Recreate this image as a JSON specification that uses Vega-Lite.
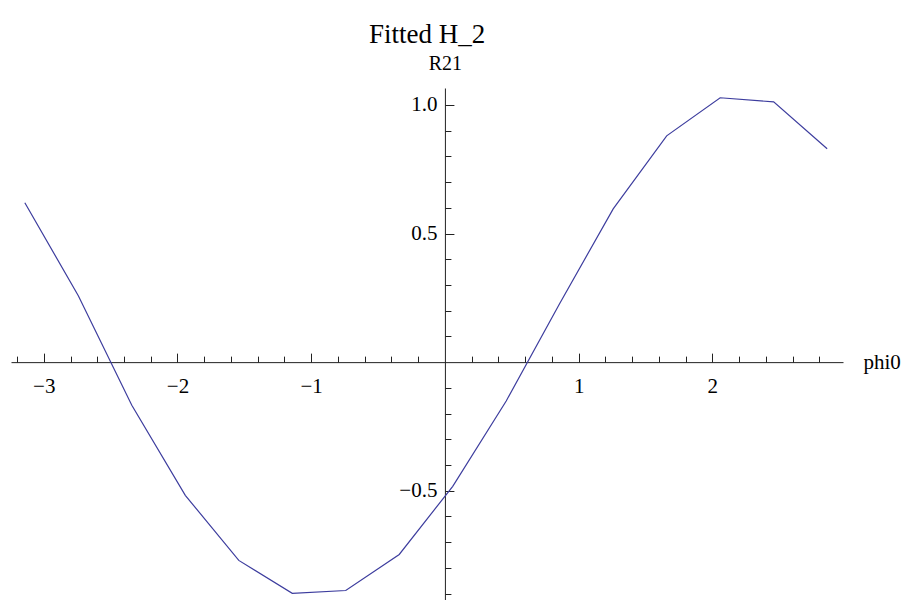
{
  "$schema": "https://vega.github.io/schema/vega-lite/v6.json",
  "width": 832,
  "height": 512,
  "autosize": "none",
  "padding": {"left": 11, "top": 88, "right": 63, "bottom": 0},
  "background": "white",
  "config": {
    "view": {"stroke": null},
    "font": "Liberation Serif"
  },
  "title": {
    "text": "Fitted H_2",
    "font": "Liberation Serif",
    "fontSize": 27,
    "fontWeight": "normal",
    "color": "black",
    "anchor": "middle",
    "offset": 4
  },
  "data": {
    "values": [
      {"phi0": -3.1416, "R21": 0.620},
      {"phi0": -2.7416, "R21": 0.258},
      {"phi0": -2.3416, "R21": -0.168},
      {"phi0": -1.9416, "R21": -0.518},
      {"phi0": -1.5416, "R21": -0.771},
      {"phi0": -1.1416, "R21": -0.899},
      {"phi0": -0.7416, "R21": -0.888},
      {"phi0": -0.3416, "R21": -0.748},
      {"phi0": 0.0584, "R21": -0.483},
      {"phi0": 0.4584, "R21": -0.151},
      {"phi0": 0.8584, "R21": 0.228},
      {"phi0": 1.2584, "R21": 0.596},
      {"phi0": 1.6584, "R21": 0.880},
      {"phi0": 2.0584, "R21": 1.028},
      {"phi0": 2.4584, "R21": 1.012},
      {"phi0": 2.8584, "R21": 0.830}
    ]
  },
  "layer": [
    {
      "mark": {"type": "line", "color": "#3d3d9e", "strokeWidth": 1.2},
      "encoding": {
        "x": {
          "field": "phi0",
          "type": "quantitative",
          "scale": {"domain": [-3.245, 2.977], "nice": false, "zero": false},
          "axis": {
            "orient": "bottom",
            "offset": {"expr": "scale('y', 0) - height"},
            "values": [-3, -2, -1, 1, 2],
            "format": "d",
            "grid": false,
            "domainColor": "#222222",
            "domainWidth": 1,
            "tickColor": "#222222",
            "tickWidth": 1,
            "tickSize": -9,
            "labelFont": "Liberation Serif",
            "labelFontSize": 21,
            "labelColor": "black",
            "labelPadding": 22,
            "title": "phi0",
            "titleFont": "Liberation Serif",
            "titleFontSize": 21,
            "titleFontWeight": "normal",
            "titleColor": "black",
            "titleAngle": 0,
            "titleAlign": "left",
            "titleBaseline": "middle",
            "titleX": 852,
            "titleY": 0
          }
        },
        "y": {
          "field": "R21",
          "type": "quantitative",
          "scale": {"domain": [-0.925, 1.066], "nice": false, "zero": false},
          "axis": {
            "orient": "left",
            "offset": {"expr": "-scale('x', 0)"},
            "values": [-0.5, 0.5, 1.0],
            "format": ".1f",
            "grid": false,
            "domainColor": "#222222",
            "domainWidth": 1,
            "tickColor": "#222222",
            "tickWidth": 1,
            "tickSize": -9,
            "labelFont": "Liberation Serif",
            "labelFontSize": 21,
            "labelColor": "black",
            "labelPadding": 17,
            "title": "R21",
            "titleFont": "Liberation Serif",
            "titleFontSize": 20,
            "titleFontWeight": "normal",
            "titleColor": "black",
            "titleAngle": 0,
            "titleAlign": "center",
            "titleBaseline": "alphabetic",
            "titleX": 0,
            "titleY": -19
          }
        }
      }
    },
    {
      "mark": {"type": "line", "strokeOpacity": 0},
      "encoding": {
        "x": {
          "field": "phi0",
          "type": "quantitative",
          "axis": {
            "orient": "bottom",
            "offset": {"expr": "scale('y', 0) - height"},
            "values": [-3.2, -2.8, -2.6, -2.4, -2.2, -1.8, -1.6, -1.4, -1.2, -0.8, -0.6, -0.4, -0.2, 0.2, 0.4, 0.6, 0.8, 1.2, 1.4, 1.6, 1.8, 2.2, 2.4, 2.6, 2.8],
            "grid": false,
            "domain": false,
            "labels": false,
            "tickColor": "#222222",
            "tickWidth": 1,
            "tickSize": -6,
            "title": null
          }
        },
        "y": {
          "field": "R21",
          "type": "quantitative",
          "axis": {
            "orient": "left",
            "offset": {"expr": "-scale('x', 0)"},
            "values": [-0.9, -0.8, -0.7, -0.6, -0.4, -0.3, -0.2, -0.1, 0.1, 0.2, 0.3, 0.4, 0.6, 0.7, 0.8, 0.9],
            "grid": false,
            "domain": false,
            "labels": false,
            "tickColor": "#222222",
            "tickWidth": 1,
            "tickSize": -6,
            "title": null
          }
        }
      }
    }
  ],
  "resolve": {"axis": {"x": "independent", "y": "independent"}}
}
